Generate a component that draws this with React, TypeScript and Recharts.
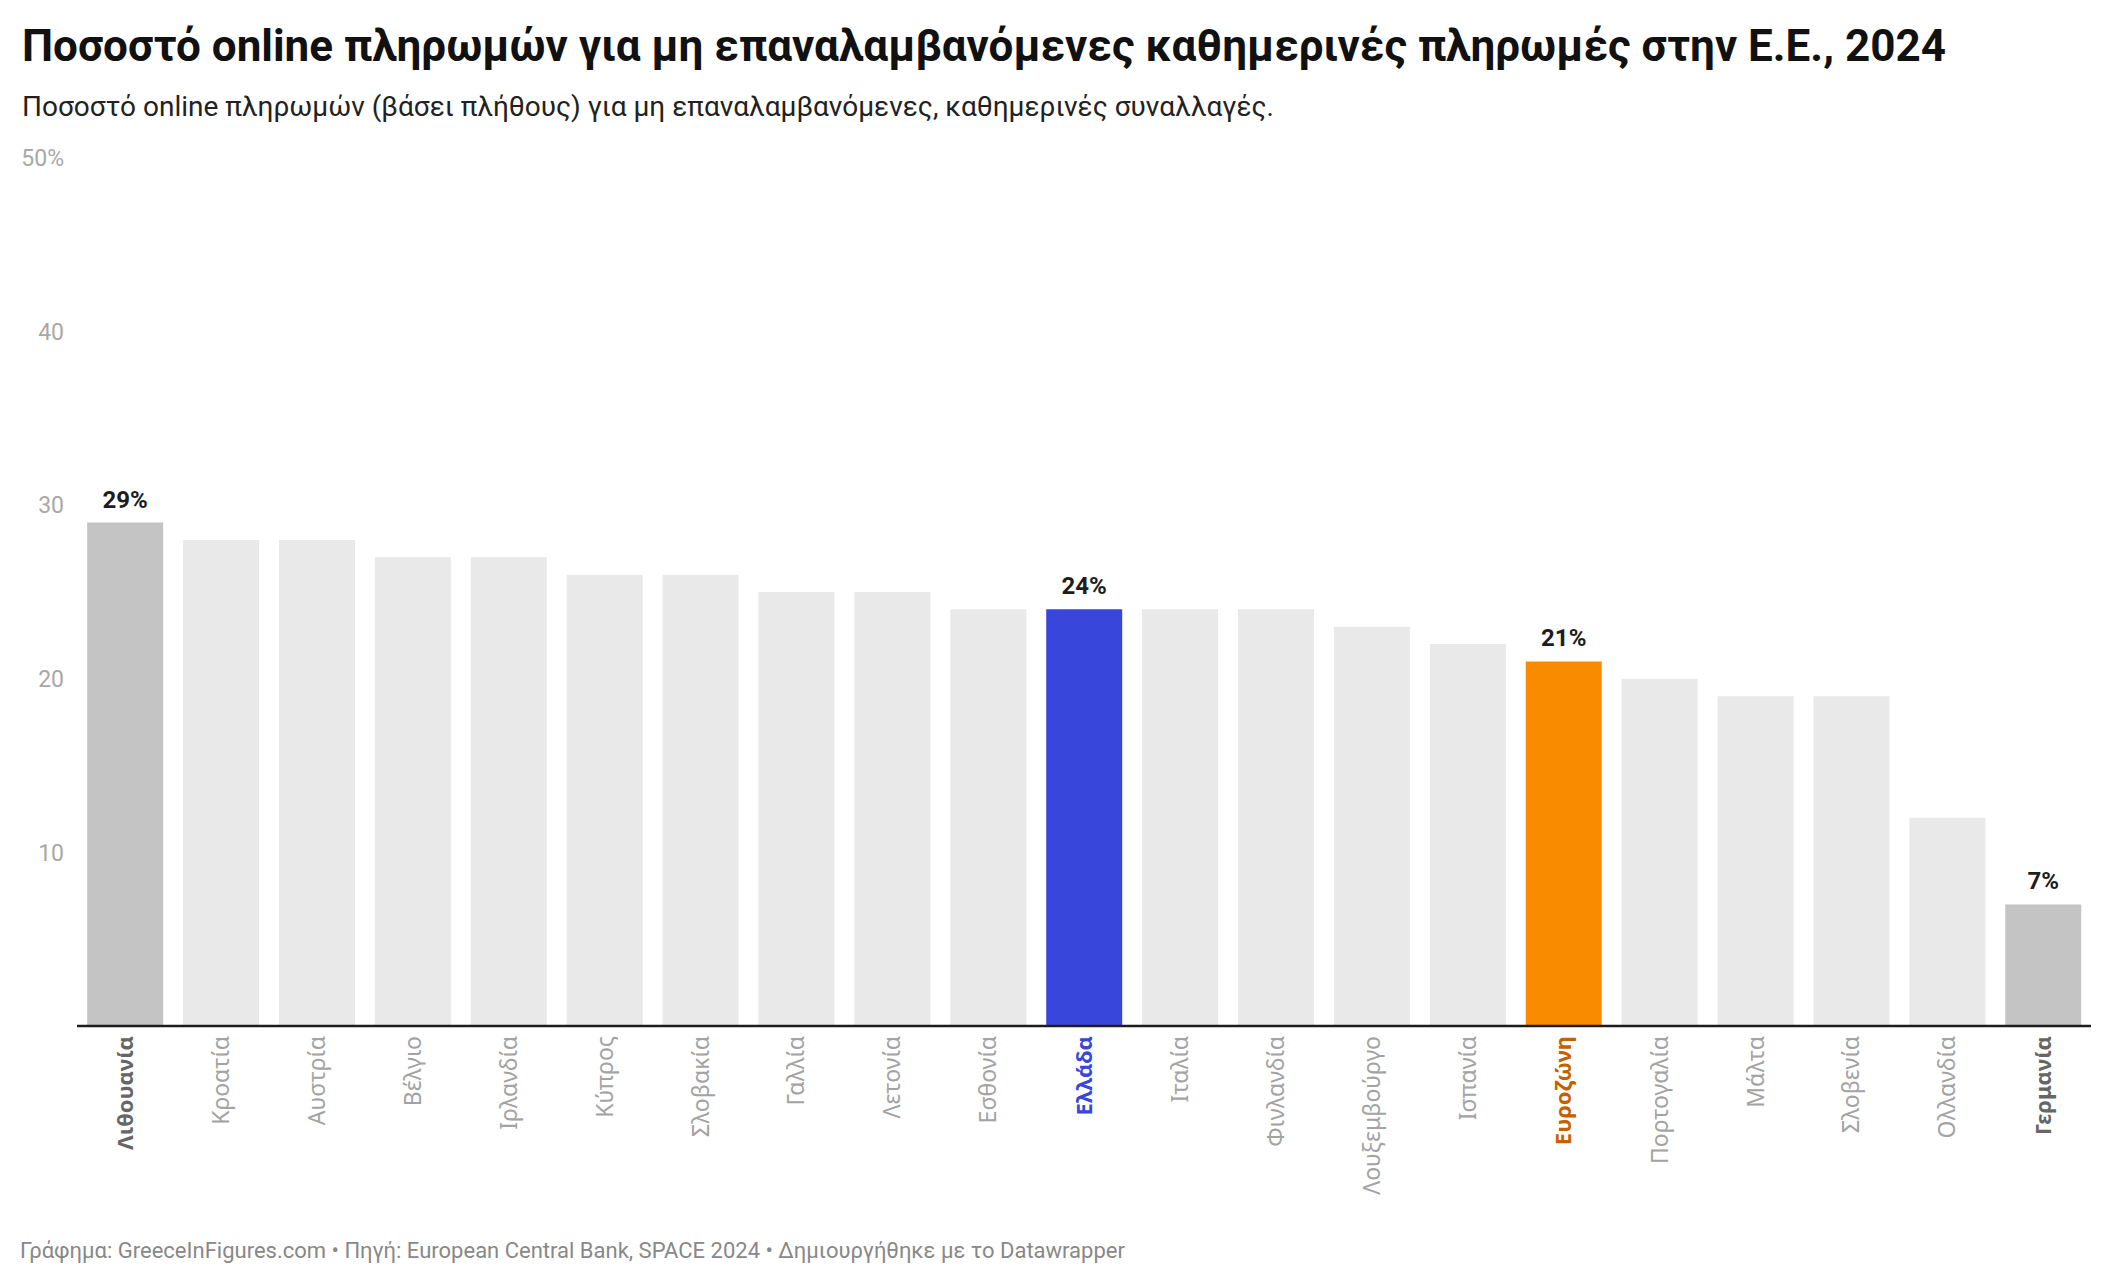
import React from 'react';
import { BarChart, Bar, XAxis, YAxis, Cell, LabelList } from 'recharts';

const categories = [
  'Λιθουανία', 'Κροατία', 'Αυστρία', 'Βέλγιο', 'Ιρλανδία', 'Κύπρος', 'Σλοβακία',
  'Γαλλία', 'Λετονία', 'Εσθονία', 'Ελλάδα', 'Ιταλία', 'Φινλανδία', 'Λουξεμβούργο',
  'Ισπανία', 'Ευροζώνη', 'Πορτογαλία', 'Μάλτα', 'Σλοβενία', 'Ολλανδία', 'Γερμανία',
];
const values = [29, 28, 28, 27, 27, 26, 26, 25, 25, 24, 24, 24, 24, 23, 22, 21, 20, 19, 19, 12, 7];
const yTicks = [0, 10, 20, 30, 40, 50];
const labelledCategories = ['Λιθουανία', 'Ελλάδα', 'Ευροζώνη', 'Γερμανία'];
const greyHighlight = ['Λιθουανία', 'Γερμανία'];
const greece = 'Ελλάδα';
const eurozone = 'Ευροζώνη';

const TITLE = 'Ποσοστό online πληρωμών για μη επαναλαμβανόμενες καθημερινές πληρωμές στην Ε.Ε., 2024';
const SUBTITLE = 'Ποσοστό online πληρωμών (βάσει πλήθους) για μη επαναλαμβανόμενες, καθημερινές συναλλαγές.';
const FOOTER = 'Γράφημα: GreeceInFigures.com • Πηγή: European Central Bank, SPACE 2024 • Δημιουργήθηκε με το Datawrapper';

function barColor(name: string) {
  if (name === greece) return '#3846dc';
  if (name === eurozone) return '#f98b00';
  if (greyHighlight.includes(name)) return '#c4c4c4';
  return '#e9e9e9';
}

function tickStyle(name: string) {
  if (name === greece) return { color: '#3846dc', weight: 700, size: 22 };
  if (name === eurozone) return { color: '#c65f00', weight: 700, size: 22 };
  if (greyHighlight.includes(name)) return { color: '#666666', weight: 700, size: 22 };
  return { color: '#a3a3a3', weight: 400, size: 23 };
}

function CategoryTick(props: any) {
  const { x, y, payload } = props;
  const name = payload.value as string;
  const st = tickStyle(name);
  return (
    <text
      transform={`translate(${x},${y + 10}) rotate(-90)`}
      textAnchor="end"
      dy="0.355em"
      fill={st.color}
      fontWeight={st.weight}
      fontSize={st.size}
      fontFamily="'Noto Sans', sans-serif"
    >
      {name}
    </text>
  );
}

function ValueLabel(props: any) {
  const { x, y, width, value } = props;
  if (value === undefined || value === null || value === '') return null;
  return (
    <text
      x={Number(x) + Number(width) / 2}
      y={Number(y) - 15}
      textAnchor="middle"
      fill="#1d1d1d"
      fontWeight={700}
      fontSize={24}
      fontFamily="Roboto, sans-serif"
    >
      {value}
    </text>
  );
}

export default function App() {
  const data = categories.map((c, i) => ({
    name: c,
    value: values[i],
    label: labelledCategories.includes(c) ? `${values[i]}%` : undefined,
  }));

  return (
    <div
      style={{
        position: 'relative',
        width: 2096,
        height: 1268,
        background: '#fff',
        fontFamily: 'Roboto, sans-serif',
      }}
    >
      <BarChart
        width={2096}
        height={1230}
        data={data}
        margin={{ top: 150, right: 13, bottom: 0, left: 0 }}
        barCategoryGap="10.6%"
      >
        <XAxis
          dataKey="name"
          height={212}
          interval={0}
          tickLine={false}
          tickSize={0}
          tickMargin={0}
          axisLine={{ stroke: '#1d1d1d', strokeWidth: 2.5 }}
          tick={<CategoryTick />}
        />
        <YAxis
          width={69}
          domain={[0, 50]}
          ticks={yTicks}
          interval={0}
          axisLine={false}
          tickLine={false}
          tickSize={0}
          tickMargin={13}
          tickFormatter={(v: number) => (v === 0 ? '' : v === 50 ? '50%' : String(v))}
          tick={{ fill: '#a8a8a8', fontSize: 23, fontFamily: 'Roboto, sans-serif' }}
        />
        <Bar dataKey="value" isAnimationActive={false}>
          {data.map((d) => (
            <Cell key={d.name} fill={barColor(d.name)} />
          ))}
          <LabelList dataKey="label" content={<ValueLabel />} />
        </Bar>
      </BarChart>

      <div
        style={{
          position: 'absolute',
          left: 14,
          top: 16,
          fontSize: 44,
          lineHeight: '44px',
          fontWeight: 700,
          color: '#111',
          whiteSpace: 'nowrap',
        }}
      >
        {TITLE}
      </div>
      <div
        style={{
          position: 'absolute',
          left: 14,
          top: 85,
          fontSize: 28,
          lineHeight: '28px',
          color: '#222',
          whiteSpace: 'nowrap',
        }}
      >
        {SUBTITLE}
      </div>
      <div
        style={{
          position: 'absolute',
          left: 12,
          top: 1232,
          fontSize: 22,
          lineHeight: '22px',
          color: '#888',
          whiteSpace: 'nowrap',
        }}
      >
        {FOOTER}
      </div>
    </div>
  );
}
